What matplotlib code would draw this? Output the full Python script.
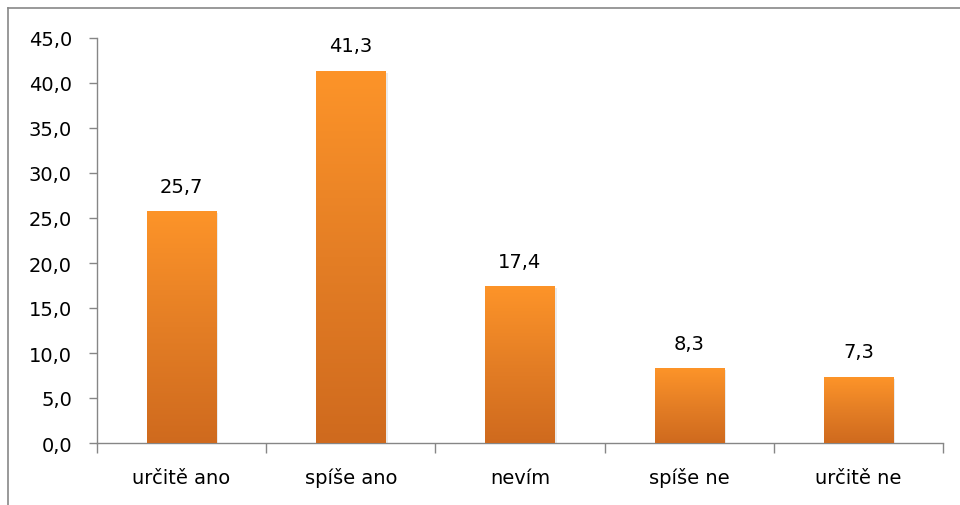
import matplotlib
matplotlib.use("Agg")
import matplotlib.pyplot as plt
import numpy as np
from matplotlib.colors import LinearSegmentedColormap
from matplotlib.lines import Line2D

categories = ["určitě ano", "spíše ano", "nevím", "spíše ne", "určitě ne"]
values = [25.7, 41.3, 17.4, 8.3, 7.3]
yticks = [0, 5, 10, 15, 20, 25, 30, 35, 40, 45]

plt.rcParams['font.family'] = ['DejaVu Sans']
FS = 14

fig = plt.figure(figsize=(9.6, 5.06), dpi=100)
ax = fig.add_axes([97/960, 1-444/506, (943-97)/960, (444-39)/506])

cmap = LinearSegmentedColormap.from_list("og", ["#cf6a1e", "#e47e25", "#fd9429"])
grad = np.linspace(0, 1, 256).reshape(-1, 1)
width = 0.41
x = np.arange(len(categories))
for xi, v in zip(x, values):
    ax.bar(xi + 0.012, v, width=width, bottom=-0.15, color="#000000", alpha=0.08, zorder=2)
    ax.imshow(grad, cmap=cmap, aspect="auto", origin="lower",
              extent=(xi - width/2, xi + width/2, 0, v), zorder=3)
    ax.text(xi, v + 2.2, f"{v:.1f}".replace(".", ","), ha="center", va="baseline",
            fontsize=FS, color="#000000", zorder=4)

ax.set_xlim(-0.5, len(categories) - 0.5)
ax.set_ylim(0, 45)
ax.set_yticks(yticks)
ax.set_yticklabels([f"{t:.1f}".replace(".", ",") for t in yticks], fontsize=FS)
ax.set_xticks(x)
ax.set_xticklabels(categories, fontsize=FS, va="baseline")
ax.tick_params(axis="x", length=0, pad=29)
ax.tick_params(axis="y", length=6, color="#868686", width=1, pad=12)
ax.set_xticks(np.arange(-0.5, len(categories) + 0.5, 1), minor=True)
ax.tick_params(axis="x", which="minor", length=7, color="#868686", width=1, direction="out")

for s in ["top", "right"]:
    ax.spines[s].set_visible(False)
for s in ["left", "bottom"]:
    ax.spines[s].set_color("#868686")
    ax.spines[s].set_linewidth(1)

fig.add_artist(Line2D([8/960, 1.0], [1-9/506, 1-9/506], transform=fig.transFigure, color="#888888", lw=1.2))
fig.add_artist(Line2D([8/960, 8/960], [1-9/506, 0.0], transform=fig.transFigure, color="#888888", lw=1.2))

fig.savefig("out.png", dpi=100)
